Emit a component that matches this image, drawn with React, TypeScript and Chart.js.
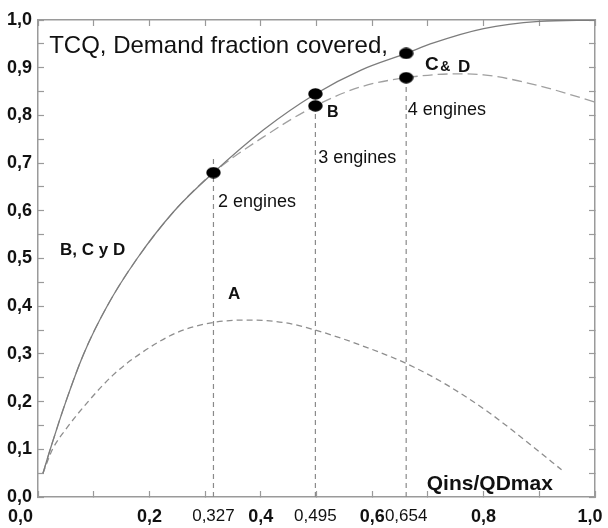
import React, { useEffect, useRef } from "react";
import { Chart, registerables } from "chart.js";

Chart.register(...registerables);

// Curve "B, C y D" (solid)
const solidX = [0.009, 0.022, 0.05, 0.082, 0.124, 0.178, 0.245, 0.315, 0.405, 0.498, 0.58, 0.661, 0.71, 0.8, 0.9, 1.0];
const solidY = [0.05, 0.1, 0.2, 0.3, 0.4, 0.5, 0.6, 0.68, 0.77, 0.845, 0.895, 0.93, 0.952, 0.982, 0.997, 1.0];

// Upper dashed curve (B / C & D)
const upperX = [0.009, 0.022, 0.05, 0.082, 0.124, 0.178, 0.245, 0.315, 0.405, 0.498, 0.58, 0.661, 0.75, 0.8, 0.9, 1.0];
const upperY = [0.05, 0.1, 0.2, 0.3, 0.4, 0.5, 0.6, 0.68, 0.755, 0.82, 0.86, 0.879, 0.887, 0.885, 0.862, 0.828];

// Curve "A" (lower dashed)
const lowerX = [0.009, 0.026, 0.05, 0.09, 0.135, 0.183, 0.25, 0.315, 0.38, 0.44, 0.498, 0.58, 0.661, 0.734, 0.812, 0.889, 0.94];
const lowerY = [0.05, 0.1, 0.142, 0.2, 0.256, 0.3, 0.345, 0.366, 0.371, 0.366, 0.35, 0.318, 0.28, 0.235, 0.175, 0.105, 0.057];

// Engine markers
const dotX = [0.315, 0.498, 0.498, 0.661, 0.661];
const dotY = [0.68, 0.845, 0.82, 0.93, 0.879];

// Vertical dashed marker lines
const markerX = [0.315, 0.498, 0.661];
const markerTop = [0.712, 0.82, 0.879];
const markerLabels = ["0,327", "0,495", "0,654"];

// Axis ticks
const xTickValues = [0, 0.1, 0.2, 0.3, 0.4, 0.5, 0.6, 0.7, 0.8, 0.9, 1.0];
const xTickLabels = ["0,0", "", "0,2", "", "0,4", "", "0,6", "", "0,8", "", "1,0"];
const yTickValues = [0, 0.05, 0.1, 0.15, 0.2, 0.25, 0.3, 0.35, 0.4, 0.45, 0.5, 0.55, 0.6, 0.65, 0.7, 0.75, 0.8, 0.85, 0.9, 0.95, 1.0];
const yTickLabels = ["0,0", "", "0,1", "", "0,2", "", "0,3", "", "0,4", "", "0,5", "", "0,6", "", "0,7", "", "0,8", "", "0,9", "", "1,0"];

// Text annotations (data coordinates)
const annotations = [
  { text: "TCQ, Demand fraction covered,", x: 0.02, y: 0.931, size: 24, weight: "normal" },
  { text: "C", x: 0.695, y: 0.896, size: 19, weight: "bold" },
  { text: "&", x: 0.722, y: 0.893, size: 14, weight: "bold" },
  { text: "D", x: 0.754, y: 0.892, size: 17, weight: "bold" },
  { text: "B", x: 0.519, y: 0.797, size: 16, weight: "bold" },
  { text: "4 engines", x: 0.664, y: 0.801, size: 18, weight: "normal" },
  { text: "3 engines", x: 0.503, y: 0.7, size: 18, weight: "normal" },
  { text: "2 engines", x: 0.323, y: 0.608, size: 18, weight: "normal" },
  { text: "B, C y D", x: 0.0395, y: 0.507, size: 17, weight: "bold" },
  { text: "A", x: 0.341, y: 0.415, size: 17, weight: "bold" },
  { text: "Qins/QDmax", x: 0.698, y: 0.0147, size: 21, weight: "bold" },
];

const FONT = "'Liberation Sans', Arial, Helvetica, sans-serif";
const AXIS_GRAY = "#9a9a9a";

type XT = { value: number; label: string; marker: boolean };
const xTicksAll: XT[] = [
  ...xTickValues.map((v, i) => ({ value: v, label: xTickLabels[i], marker: false })),
  ...markerX.map((v, i) => ({ value: v, label: markerLabels[i], marker: true })),
].sort((a, b) => a.value - b.value);

function pts(xs: number[], ys: number[]) {
  return xs.map((x, i) => ({ x, y: ys[i] }));
}

function makeDot(): HTMLCanvasElement {
  const c = document.createElement("canvas");
  c.width = 15;
  c.height = 12;
  const g = c.getContext("2d")!;
  g.fillStyle = "#000";
  g.beginPath();
  g.ellipse(7.5, 6, 7.2, 5.8, 0, 0, Math.PI * 2);
  g.fill();
  return c;
}

const textPlugin = {
  id: "textAnnotations",
  afterDraw(chart: any) {
    const { ctx } = chart;
    const x = chart.scales.x;
    const y = chart.scales.y;
    ctx.save();
    ctx.fillStyle = "#111";
    ctx.textAlign = "left";
    ctx.textBaseline = "alphabetic";
    for (const a of annotations) {
      ctx.font = `${a.weight} ${a.size}px ${FONT}`;
      ctx.fillText(a.text, x.getPixelForValue(a.x), y.getPixelForValue(a.y));
    }
    ctx.restore();
  },
};

export default function App() {
  const ref = useRef<HTMLCanvasElement>(null);

  useEffect(() => {
    const canvas = ref.current!;
    Chart.defaults.font.family = FONT;
    const dot = makeDot();

    const markerDatasets = markerX.map((mx, i) => ({
      label: "marker" + i,
      data: [
        { x: mx, y: 0 },
        { x: mx, y: markerTop[i] },
      ],
      borderColor: "#8a8a8a",
      borderWidth: 1.2,
      borderDash: [5, 4],
      pointRadius: 0,
      fill: false,
    }));

    const chart = new Chart(canvas, {
      type: "line",
      data: {
        datasets: [
          {
            label: "dots",
            data: pts(dotX, dotY),
            showLine: false,
            pointStyle: dot as any,
            pointRadius: 7,
            borderWidth: 0,
            backgroundColor: "#000",
          },
          {
            label: "BCD",
            data: pts(solidX, solidY),
            borderColor: "#7c7c7c",
            borderWidth: 1.3,
            pointRadius: 0,
            cubicInterpolationMode: "monotone",
            fill: false,
          },
          {
            label: "upper",
            data: pts(upperX, upperY),
            borderColor: "#a0a0a0",
            borderWidth: 1.3,
            borderDash: [10, 5],
            pointRadius: 0,
            cubicInterpolationMode: "monotone",
            fill: false,
          },
          {
            label: "A",
            data: pts(lowerX, lowerY),
            borderColor: "#8e8e8e",
            borderWidth: 1.3,
            borderDash: [6, 4],
            pointRadius: 0,
            cubicInterpolationMode: "monotone",
            fill: false,
          },
          ...markerDatasets,
        ] as any,
      },
      options: {
        animation: false,
        responsive: false,
        devicePixelRatio: 1,
        layout: { padding: { top: 20, right: 13, left: 0, bottom: 0 } },
        plugins: {
          legend: { display: false },
          tooltip: { enabled: false },
        },
        scales: {
          x: {
            type: "linear",
            position: "bottom",
            min: 0,
            max: 1,
            afterBuildTicks: (s: any) => {
              s.ticks = xTicksAll.map((t) => ({ value: t.value }));
            },
            afterFit: (s: any) => {
              s.height = 31;
              s.paddingLeft = 0;
              s.paddingRight = 0;
            },
            ticks: {
              autoSkip: false,
              maxRotation: 0,
              minRotation: 0,
              padding: 15,
              color: "#111",
              font: (c: any) => {
                const t = xTicksAll[c.index];
                return t && t.marker ? { size: 17, weight: "normal" } : { size: 18, weight: "bold" };
              },
              callback: (_v: any, i: number) => {
                const t = xTicksAll[i];
                if (!t) return "";
                if (i === 0) return t.label + "       ";
                if (i === xTicksAll.length - 1) return t.label + "  ";
                return t.label;
              },
            },
            grid: {
              drawOnChartArea: false,
              drawTicks: true,
              tickLength: -6,
              tickWidth: 1.2,
              tickColor: (c: any) => {
                const t = xTicksAll[c.index];
                return t && t.marker ? "rgba(0,0,0,0)" : AXIS_GRAY;
              },
            },
            border: { display: true, color: AXIS_GRAY, width: 1.5 },
          },
          x2: {
            type: "linear",
            position: "top",
            min: 0,
            max: 1,
            afterBuildTicks: (s: any) => {
              s.ticks = xTickValues.map((v) => ({ value: v }));
            },
            afterFit: (s: any) => {
              s.height = 0;
              s.paddingLeft = 0;
              s.paddingRight = 0;
            },
            ticks: { display: false },
            grid: {
              drawOnChartArea: false,
              drawTicks: true,
              tickLength: -6,
              tickWidth: 1.2,
              tickColor: AXIS_GRAY,
            },
            border: { display: true, color: AXIS_GRAY, width: 1.5 },
          },
          y: {
            type: "linear",
            position: "left",
            min: 0,
            max: 1,
            afterBuildTicks: (s: any) => {
              s.ticks = yTickValues.map((v) => ({ value: v }));
            },
            afterFit: (s: any) => {
              s.width = 38;
              s.paddingTop = 0;
              s.paddingBottom = 0;
            },
            ticks: {
              autoSkip: false,
              padding: 12,
              color: "#111",
              font: { size: 18, weight: "bold" },
              callback: (_v: any, i: number) => yTickLabels[i] ?? "",
            },
            grid: {
              drawOnChartArea: false,
              drawTicks: true,
              tickLength: -6,
              tickWidth: 1.2,
              tickColor: AXIS_GRAY,
            },
            border: { display: true, color: AXIS_GRAY, width: 1.5 },
          },
          y2: {
            type: "linear",
            position: "right",
            min: 0,
            max: 1,
            afterBuildTicks: (s: any) => {
              s.ticks = yTickValues.map((v) => ({ value: v }));
            },
            afterFit: (s: any) => {
              s.width = 0;
              s.paddingTop = 0;
              s.paddingBottom = 0;
            },
            ticks: { display: false },
            grid: {
              drawOnChartArea: false,
              drawTicks: true,
              tickLength: -6,
              tickWidth: 1.2,
              tickColor: AXIS_GRAY,
            },
            border: { display: true, color: AXIS_GRAY, width: 1.5 },
          },
        },
      } as any,
      plugins: [textPlugin],
    });

    return () => chart.destroy();
  }, []);

  return (
    <div style={{ position: "absolute", left: 0, top: 0, width: 608, height: 528 }}>
      <canvas ref={ref} width={608} height={528} style={{ display: "block", width: 608, height: 528 }} />
    </div>
  );
}
